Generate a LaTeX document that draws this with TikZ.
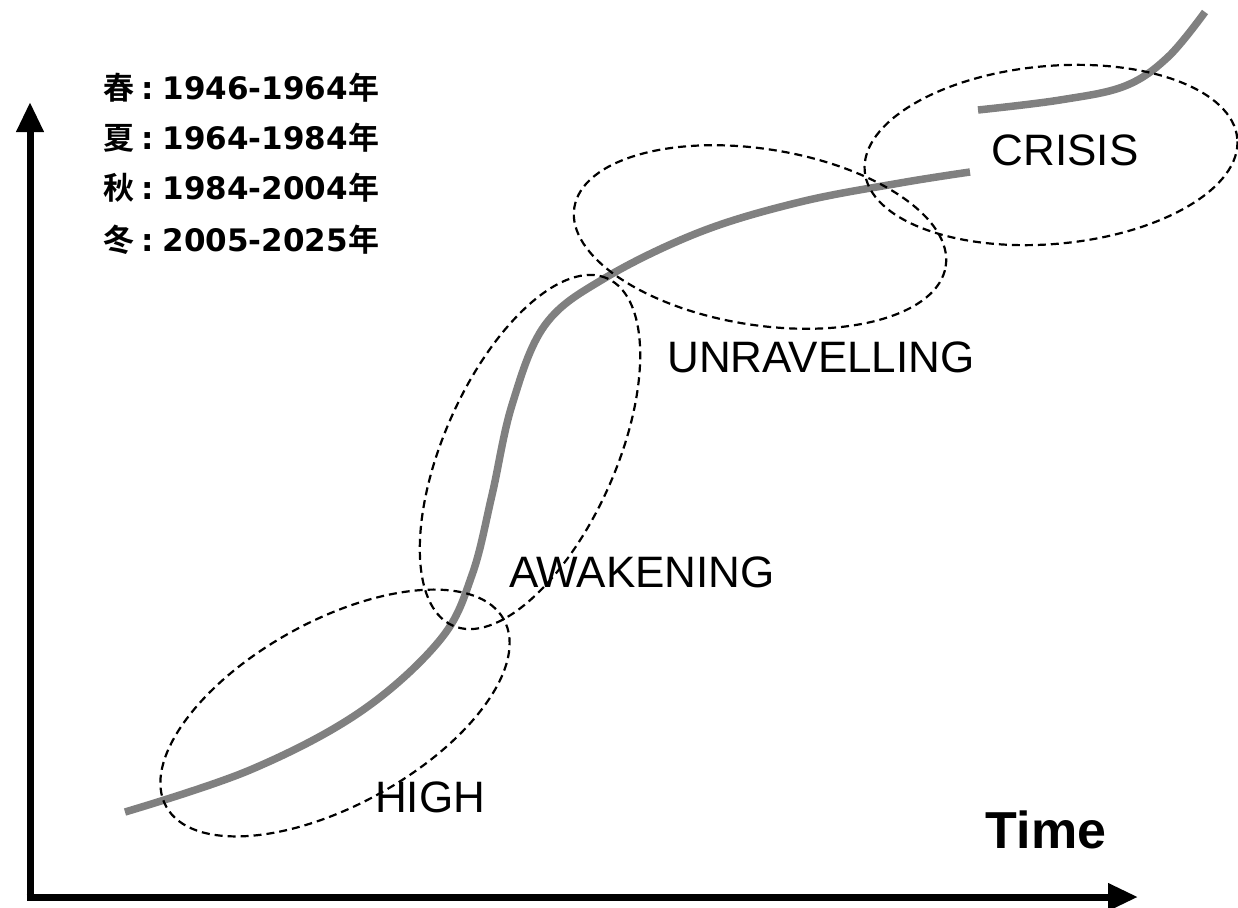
\documentclass[tikz,border=0pt]{standalone}
\usepackage{fontspec}
\setmainfont{Liberation Sans}
\newfontfamily\cjkb{Noto Sans CJK JP Bold}
\newfontfamily\dvb{DejaVu Sans Bold}
\usetikzlibrary{arrows.meta}
\newcommand{\legline}[2]{{\cjkb #1}\hspace{7pt}:\hspace{9pt}#2{\cjkb 年}}
\begin{document}
\begin{tikzpicture}[x=1pt,y=-1pt,
  axis/.style={line width=7pt,-{Triangle[length=30pt,width=26pt]}},
  curvestyle/.style={line width=7.5pt,draw={rgb,255:red,128;green,128;blue,128}},
  phase/.style={draw=black,line width=2.2pt,dash pattern=on 8pt off 5pt},
  lbl/.style={font=\fontsize{44}{48}\selectfont,inner sep=0pt},
  leg/.style={font=\dvb\fontsize{31}{33}\selectfont,anchor=west,inner sep=0pt}]
\useasboundingbox (0,0) rectangle (1238,907);
% axes
\coordinate (origin) at (30,897);
\coordinate (ytip) at (30,102);
\coordinate (xtip) at (1138,897);
\draw[axis] ([yshift=3.5pt]origin) -- (ytip);
\draw[axis] ([xshift=-3.5pt]origin) -- (xtip);
% curve
\draw[curvestyle,line cap=butt] plot[smooth,tension=0.6] coordinates {(125,812) (250,770) (360,712) (440,640) (472,575) (492,495) (512,405) (545,325) (605,278) (700,232) (800,202) (900,183) (970,172)};
\draw[curvestyle,line cap=butt] plot[smooth,tension=0.6] coordinates {(978,110) (1060,100) (1125,86) (1168,57) (1205,12)};
% ellipses
\draw[phase,rotate around={29:(335,713)}] (335,713) ellipse [x radius=193pt,y radius=92pt];
\draw[phase,rotate around={66:(530,452)}] (530,452) ellipse [x radius=190pt,y radius=86pt];
\draw[phase,rotate around={-9:(760,237)}] (760,237) ellipse [x radius=188pt,y radius=88pt];
\draw[phase,rotate around={5:(1051,155)}] (1051,155) ellipse [x radius=187pt,y radius=89pt];
% labels
\node[lbl] (crisis) at (1065,150) {CRISIS};
\node[lbl] (unrav) at (821,357) {UNRAVELLING};
\node[lbl] (awak) at (642,572) {AWAKENING};
\node[lbl] (high) at (430,797) {HIGH};
\node[lbl,font=\bfseries\fontsize{52}{56}\selectfont] (time) at (1046,830) {Time};
% legend
\node[leg] (l1) at (103,88) {\legline{春}{1946-1964}};
\node[leg] (l2) at (103,138) {\legline{夏}{1964-1984}};
\node[leg] (l3) at (103,188) {\legline{秋}{1984-2004}};
\node[leg] (l4) at (103,240) {\legline{冬}{2005-2025}};
\end{tikzpicture}
\end{document}
